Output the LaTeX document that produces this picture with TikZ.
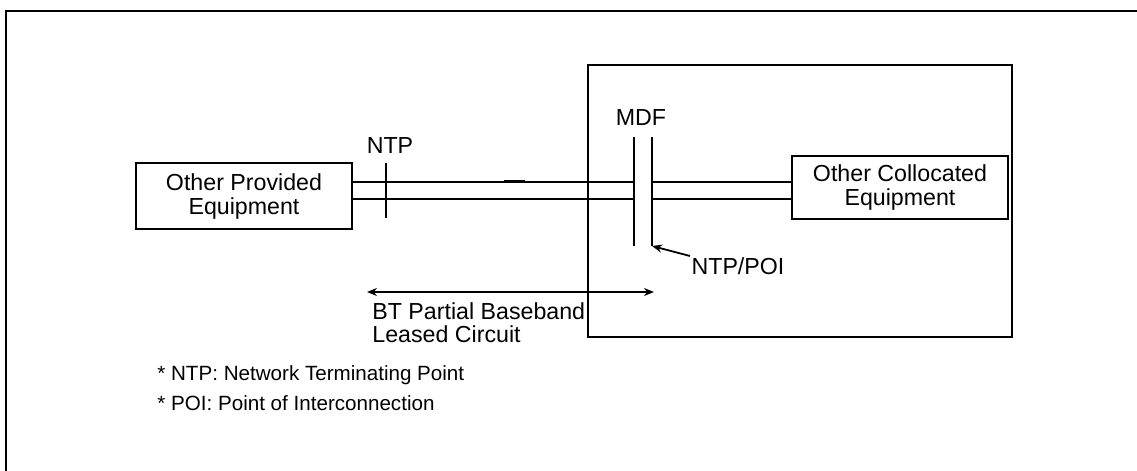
\documentclass[tikz,border=0pt]{standalone}
\usepackage{fontspec}
\setmainfont{Liberation Sans}
\usetikzlibrary{arrows.meta}
\begin{document}
\begin{tikzpicture}[x=0.5pt,y=-0.5pt,
  wire/.style={line width=0.9pt},
  eqbox/.style={draw,line width=0.9pt,inner sep=0pt,align=center,font=\fontsize{11.6}{12}\selectfont},
  lbl/.style={inner sep=0pt,font=\fontsize{11.6}{12}\selectfont},
  note/.style={inner sep=0pt,anchor=west,font=\fontsize{10.3}{11}\selectfont},
  tip/.style={-{Stealth[length=5pt,width=4pt]}}]
\useasboundingbox (0,0) rectangle (1137,471);
% outer frame (only top and left edges visible)
\draw[line width=1.1pt] (6,471) -- (6,11) -- (1137,11);
% exchange building box
\node[draw,line width=0.9pt,minimum width=212pt,minimum height=136pt,inner sep=0pt] (bldg) at (800,201) {};
% equipment boxes
\node[eqbox,minimum width=108pt,minimum height=33pt] (lbox) at (244,196) {Other Provided\\Equipment};
\node[eqbox,minimum width=108pt,minimum height=31.5pt] (rbox) at (900,187.5) {Other Collocated\\Equipment};
% MDF bars
\coordinate (mdfLt) at (634,137); \coordinate (mdfLb) at (634,246);
\coordinate (mdfRt) at (652,137); \coordinate (mdfRb) at (652,246);
\draw[wire] (mdfLt) -- (mdfLb);
\draw[wire] (mdfRt) -- (mdfRb);
% wire levels
\coordinate (w1) at (0,182); \coordinate (w2) at (0,199);
\draw[wire] (lbox.east |- w1) -- (mdfLt |- w1);
\draw[wire] (lbox.east |- w2) -- (mdfLt |- w2);
\draw[wire] (mdfRt |- w1) -- (rbox.west |- w1);
\draw[wire] (mdfRt |- w2) -- (rbox.west |- w2);
\draw[line width=1.5pt] (504,181.5) -- (525,181.5);
% NTP tick
\coordinate (ntpT) at (386,163); \coordinate (ntpB) at (386,218);
\draw[wire] (ntpT) -- (ntpB);
\node[lbl] (ntp) at (390,146) {NTP};
\node[lbl] (mdf) at (641,118) {MDF};
\node[lbl] (poi) at (738,266) {NTP/POI};
\coordinate (poiS) at (690,256);
\draw[wire,tip] (poiS) -- (mdfRb);
% extent arrow
\coordinate (ext1) at (367,292); \coordinate (ext2) at (654,292);
\draw[wire,{Stealth[length=5pt,width=4pt]}-{Stealth[length=5pt,width=4pt]}] (ext1) -- (ext2);
\node[lbl,anchor=north west,align=left] (bt) at (372,302.5) {BT Partial Baseband\\[-0.6pt]Leased Circuit};
% footnotes
\node[note] (n1) at (157,375) {* NTP: Network Terminating Point};
\node[note] (n2) at (157,403) {* POI: Point of Interconnection};
\end{tikzpicture}
\end{document}
